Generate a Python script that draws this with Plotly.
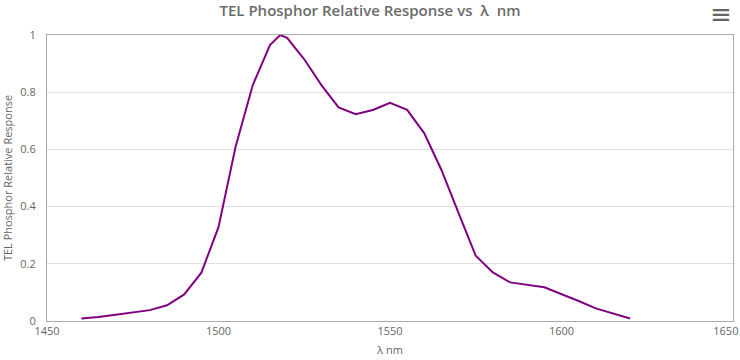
import plotly.graph_objects as go

wavelength_nm = [1460, 1465, 1470, 1475, 1480, 1485, 1490, 1495, 1500, 1505, 1510, 1515,
                 1518, 1520, 1525, 1530, 1535, 1540, 1545, 1550, 1555, 1560, 1565, 1570,
                 1575, 1580, 1585, 1595, 1600, 1605, 1610, 1615, 1620]
relative_response = [0.009, 0.014, 0.022, 0.030, 0.038, 0.055, 0.093, 0.169, 0.328, 0.610, 0.825, 0.965,
                     1.000, 0.990, 0.915, 0.825, 0.747, 0.723, 0.738, 0.763, 0.738, 0.656, 0.528, 0.377,
                     0.228, 0.170, 0.135, 0.118, 0.095, 0.070, 0.044, 0.027, 0.009]

x_ticks = [1450, 1500, 1550, 1600, 1650]
x_tick_labels = ["1450", "1500", "1550", "1600", "1650"]
y_ticks = [0, 0.2, 0.4, 0.6, 0.8, 1]
y_tick_labels = ["0", "0.2", "0.4", "0.6", "0.8", "1"]

font_family = "Open Sans, Lato, sans-serif"

# keep the last x label inside the page, as the original library does
nbsp_pad = "\u00a0" * 5
x_tick_text = x_tick_labels[:-1] + [x_tick_labels[-1] + nbsp_pad]

fig = go.Figure()
fig.add_trace(go.Scatter(
    x=wavelength_nm, y=relative_response, mode="lines",
    line=dict(color="#800080", width=2), name="TEL Phosphor Relative Response",
    hoverinfo="x+y"))

fig.update_layout(
    width=740, height=360,
    margin=dict(l=47, r=7, t=35, b=39, autoexpand=False),
    paper_bgcolor="white", plot_bgcolor="white",
    showlegend=False,
    title=dict(text="TEL Phosphor Relative Response vs  λ  nm", x=0.5, xanchor="center",
               y=0.985, yanchor="top",
               font=dict(family=font_family, size=15, color="#6b6b6b", weight=600)),
    font=dict(family=font_family, color="#666666"),
    xaxis=dict(range=[1450, 1650], tickvals=x_ticks, ticktext=x_tick_text, ticks="",
               showgrid=False, automargin=False,
               showline=True, linecolor="#aaaaaa", linewidth=1, mirror=True, zeroline=False,
               tickfont=dict(size=11, color="#666666"), ticklabeloverflow="allow",
               title=dict(text="λ nm", font=dict(size=11, color="#666666"), standoff=9)),
    yaxis=dict(range=[0, 1], tickvals=y_ticks, ticktext=y_tick_labels, ticks="", automargin=False,
               showgrid=True, gridcolor="#e0e0e0", gridwidth=1,
               showline=True, linecolor="#aaaaaa", linewidth=1, mirror=True, zeroline=False,
               tickfont=dict(size=11, color="#666666"), ticklabelstandoff=8,
               title=dict(text="TEL Phosphor Relative Response", font=dict(size=11, color="#666666"),
                          standoff=12)),
)

fig.add_annotation(text="≡", xref="paper", yref="paper", x=1.0, y=1.0, yshift=38, xshift=1,
                   xanchor="right", yanchor="top", showarrow=False,
                   font=dict(size=26, color="#666666", family="DejaVu Sans"))

fig.write_html("out.html", config={"displayModeBar": False},
               post_script="document.body.style.margin='0';document.body.style.padding='0';")
